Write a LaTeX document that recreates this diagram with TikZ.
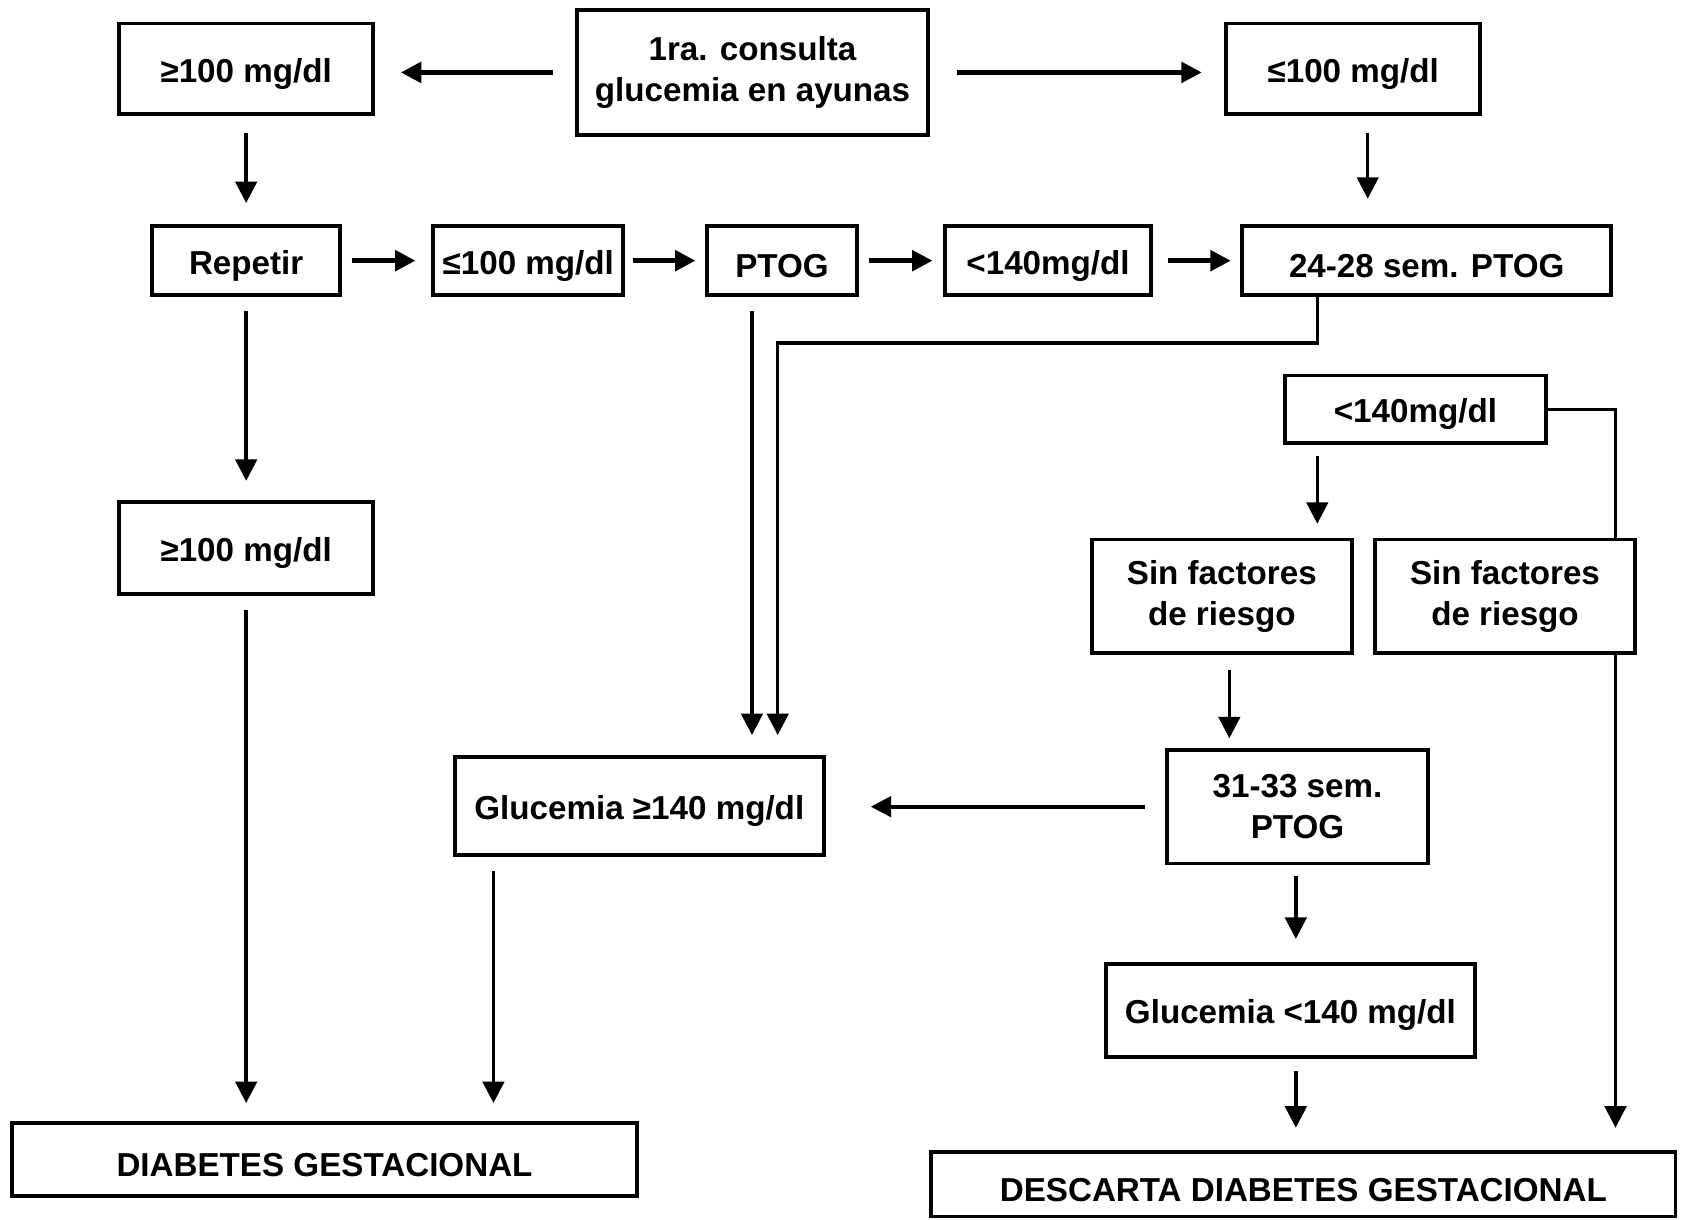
\documentclass[tikz,border=0pt]{standalone}
\usepackage{fontspec}
\setmainfont{Liberation Sans}
\usetikzlibrary{arrows.meta, positioning}

\begin{document}
\begin{tikzpicture}[
  box/.style={draw, line width=1pt, align=center, inner sep=1pt, font=\bfseries\fontsize{8.8}{10.8}\selectfont,
    execute at begin node={\rule{0pt}{9pt}}},
  varrow/.style={-{Triangle[length=2mm,width=2mm]}, line width=0.9pt, shorten <=1.3mm, shorten >=1.9mm},
  harrow/.style={-{Triangle[length=1.9mm,width=1.9mm]}, line width=1.2pt, shorten <=0.9mm, shorten >=1.1mm},
  link/.style={line width=0.9pt}
]
\useasboundingbox (0,0) rectangle (15.68,-11.37);

% First consultation
\node[box, minimum width=3.27cm, minimum height=1.17cm] (consulta) at (7.015,-0.675) {1ra. consulta\\glucemia en ayunas};
\node[box, minimum width=2.37cm, minimum height=0.84cm] (ge100a) at (2.295,-0.64) {≥100 mg/dl};
\node[box, minimum width=2.37cm, minimum height=0.84cm] (le100a) at (12.615,-0.64) {≤100 mg/dl};

% Second row
\node[box, minimum width=1.75cm, minimum height=0.64cm] (repetir) at (2.295,-2.43) {Repetir};
\node[box, minimum width=1.77cm, minimum height=0.64cm] (le100b) at (4.925,-2.43) {≤100 mg/dl};
\node[box, minimum width=1.40cm, minimum height=0.64cm] (ptog) at (7.29,-2.43) {PTOG};
\node[box, minimum width=1.92cm, minimum height=0.64cm] (lt140a) at (9.77,-2.43) {<140mg/dl};
\node[box, minimum width=3.44cm, minimum height=0.64cm] (sem2428) at (13.30,-2.43) {24-28 sem. PTOG};

% Left branch
\node[box, minimum width=2.37cm, minimum height=0.86cm] (ge100b) at (2.295,-5.11) {≥100 mg/dl};
\node[box, minimum width=3.44cm, minimum height=0.91cm] (gl140a) at (5.96,-7.515) {Glucemia ≥140 mg/dl};
\node[box, minimum width=5.83cm, minimum height=0.68cm] (diab) at (3.025,-10.81) {DIABETES GESTACIONAL};

% Right branch
\node[box, minimum width=2.43cm, minimum height=0.63cm] (lt140b) at (13.195,-3.815) {<140mg/dl};
\node[box, minimum width=2.42cm, minimum height=1.06cm] (sinf1) at (11.39,-5.56) {Sin factores\\de riesgo};
\node[box, minimum width=2.42cm, minimum height=1.06cm] (sinf2) at (14.03,-5.56) {Sin factores\\de riesgo};
\node[box, minimum width=2.43cm, minimum height=1.06cm] (sem3133) at (12.095,-7.52) {31-33 sem.\\PTOG};
\node[box, minimum width=3.44cm, minimum height=0.86cm] (gl140b) at (12.03,-9.42) {Glucemia <140 mg/dl};
\node[box, minimum width=6.94cm, minimum height=0.60cm] (descarta) at (12.15,-11.04) {DESCARTA DIABETES GESTACIONAL};

% Top arrows
\draw[harrow, shorten <=2.1mm, shorten >=2.4mm] (consulta.west) -- (consulta.west -| ge100a.east);
\draw[harrow, shorten <=2.5mm, shorten >=2.1mm] (consulta.east) -- (consulta.east -| le100a.west);
\draw[varrow, shorten <=1.6mm, shorten >=2mm] (ge100a) -- (repetir);
\draw[varrow, shorten <=1.6mm, shorten >=2.4mm] ([xshift=1.35mm]le100a.south) -- ([xshift=1.35mm]le100a.south |- sem2428.north);

% Second row arrows
\draw[harrow, shorten >=1.5mm] (repetir) -- (le100b);
\draw[harrow, shorten <=0.7mm, shorten >=0.9mm] (le100b) -- (ptog);
\draw[harrow, shorten >=1mm] (ptog) -- (lt140a);
\draw[harrow, shorten <=1.4mm, shorten >=0.9mm] (lt140a) -- (sem2428);

% Down to the diagnosis
\draw[varrow, shorten >=1.8mm] (repetir) -- (ge100b);
\draw[varrow, shorten >=1.7mm] (ge100b.south) -- (ge100b.south |- diab.north);
\draw[varrow] ([xshift=-2.8mm]ptog.south) -- ([xshift=-2.8mm]ptog.south |- gl140a.north);
\draw[varrow, shorten <=0pt] ([xshift=-10.2mm]sem2428.south) -- ++(0,-0.43) -| ([xshift=12.9mm]gl140a.north);
\draw[varrow, shorten >=1.7mm] ([xshift=-13.6mm]gl140a.south) -- ([xshift=-13.6mm]gl140a.south |- diab.north);

% Right side
\draw[varrow, shorten <=1mm, shorten >=1.3mm] ([xshift=-9.15mm]lt140b.south) -- ([xshift=-9.15mm]lt140b.south |- sinf1.north);
\draw[link] (lt140b.east) -| ([xshift=10.3mm]sinf2.north);
\draw[varrow, shorten <=0pt, shorten >=2.1mm] ([xshift=10.3mm]sinf2.south) -- ([xshift=10.3mm]sinf2.south |- descarta.north);
\draw[varrow, shorten <=1.4mm, shorten >=0.9mm] ([xshift=0.7mm]sinf1.south) -- ([xshift=0.7mm]sinf1.south |- sem3133.north);
\draw[harrow, line width=1pt, shorten <=1.9mm, shorten >=4.2mm] (sem3133.west) -- (sem3133.west -| gl140a.east);
\draw[varrow, shorten <=1mm, shorten >=2.2mm] ([xshift=-0.15mm]sem3133.south) -- ([xshift=-0.15mm]sem3133.south |- gl140b.north);
\draw[varrow, shorten <=1.2mm, shorten >=2.1mm] ([xshift=0.5mm]gl140b.south) -- ([xshift=0.5mm]gl140b.south |- descarta.north);

\end{tikzpicture}
\end{document}
